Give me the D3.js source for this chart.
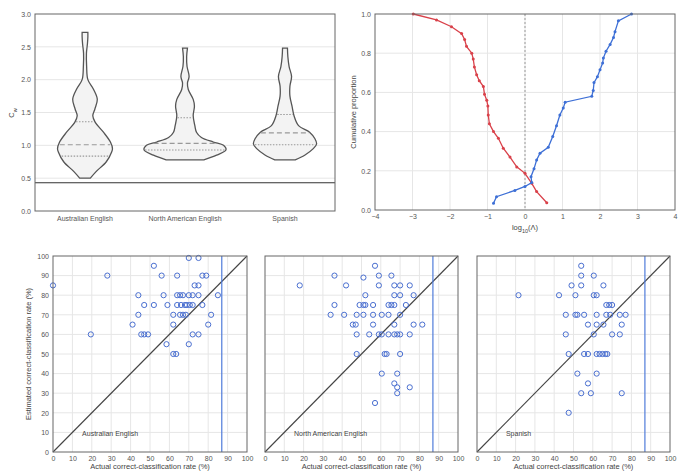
<!DOCTYPE html>
<html>
<head>
<meta charset="utf-8">
<title>Classification panels</title>
<script src="https://d3js.org/d3.v7.min.js"></script>
<style>
  body { margin: 0; background: #fff; }
  svg text { font-family: "Liberation Sans", Arial, sans-serif; fill: #444; }
</style>
</head>
<body>
<svg id="fig" width="679" height="475"></svg>
<script>
// ---- data ----
var languages = ["Australian English", "North American English", "Spanish"];

// violin outlines: [value, relative density]
var violinAus = [[0.5,0.13],[0.6,0.27],[0.75,0.52],[0.9,0.65],[0.95,0.67],[1.05,0.62],[1.2,0.45],[1.35,0.25],[1.45,0.19],[1.55,0.24],[1.7,0.30],[1.85,0.21],[2.0,0.07],[2.2,0.04],[2.4,0.035],[2.55,0.06],[2.65,0.07],[2.72,0.07]];
var violinNA = [[0.78,0.46],[0.85,0.77],[0.93,1.0],[1.0,0.94],[1.05,0.69],[1.12,0.40],[1.2,0.28],[1.3,0.24],[1.45,0.2],[1.6,0.23],[1.7,0.2],[1.85,0.08],[1.95,0.06],[2.05,0.1],[2.2,0.05],[2.35,0.04],[2.48,0.06]];
var violinSpa = [[0.78,0.25],[0.85,0.48],[0.95,0.69],[1.02,0.77],[1.1,0.73],[1.2,0.6],[1.3,0.33],[1.45,0.22],[1.6,0.17],[1.75,0.12],[1.9,0.12],[2.05,0.16],[2.2,0.1],[2.35,0.07],[2.48,0.06]];
// quartiles [q1, median, q3]
var quartAus = [0.835, 1.01, 1.36];
var quartNA = [0.93, 1.03, 1.42];
var quartSpa = [1.01, 1.19, 1.47];
var threshold = 0.43;

// cumulative proportion curves [log10(L), proportion]
var cdfRed = [[0.58,0.037],[0.31,0.094],[0.18,0.136],[0.0,0.187],[-0.22,0.22],[-0.4,0.27],[-0.58,0.315],[-0.71,0.366],[-0.84,0.40],[-0.95,0.44],[-0.98,0.485],[-0.99,0.53],[-1.02,0.56],[-1.08,0.59],[-1.11,0.63],[-1.22,0.66],[-1.29,0.69],[-1.35,0.73],[-1.38,0.77],[-1.42,0.80],[-1.56,0.835],[-1.61,0.87],[-1.69,0.90],[-1.96,0.935],[-2.36,0.97],[-2.98,1.0]];
var cdfBlue = [[-0.84,0.034],[-0.76,0.068],[-0.27,0.10],[0.0,0.12],[0.18,0.14],[0.16,0.17],[0.24,0.21],[0.31,0.255],[0.4,0.29],[0.62,0.32],[0.74,0.375],[0.84,0.43],[0.93,0.485],[1.02,0.52],[1.07,0.55],[1.78,0.58],[1.82,0.61],[1.84,0.65],[1.93,0.68],[2.0,0.715],[2.07,0.75],[2.09,0.775],[2.16,0.81],[2.27,0.845],[2.36,0.88],[2.4,0.91],[2.49,0.965],[2.84,1.0]];

// scatter: [actual, estimated]
var ratesAus = [[0,85],[52,95],[28,90],[56,90],[64,90],[70,99],[75,99],[77,90],[79,90],[73,85],[75,85],[44,80],[57,80],[64,80],[65.5,80],[67,80],[70,80],[72,80],[75,80],[85,80],[47,75],[52,75],[59,75],[64,75],[66,75],[68,75],[69,75],[70.5,75],[72,75],[77,75],[44,70],[62,70],[65.5,70],[67,70],[68.5,70],[81.5,70],[41,65],[62,65],[80,65],[19.5,60],[45.5,60],[47,60],[49,60],[72,60],[75,60],[58.5,55],[70,55],[62,50],[63.5,50]];
var ratesNA = [[57,95],[36,90],[51,89],[59,90],[65.5,90],[18,85],[42,85],[59,85],[67,85],[70,85],[75,85],[52,80],[67,80],[70,80],[77,80],[36,75],[49,75],[51,75],[52,75],[56,75],[64,75],[65.5,75],[67,75],[73,75],[34,70],[41,70],[47.5,70],[51,70],[56,70],[60.5,70],[64,70],[70,70],[45.5,65],[47,65],[56,65],[67,65],[77,65],[81.5,65],[47.5,60],[54,60],[59,60],[60.5,60],[64,60],[67,60],[68.5,60],[70,60],[75,60],[47.5,50],[62,50],[63,50],[70,50],[60.5,40],[68.5,40],[67,35],[68.5,33],[68.5,30],[75,33],[57,25]];
var ratesSpa = [[54,95],[54,90],[60.5,90],[49,85],[54,85],[65.5,85],[21.5,80],[42.5,80],[51,80],[60.5,80],[62,80],[67,75],[68.5,75],[70,75],[46,70],[51,70],[52,70],[55.5,70],[62,70],[67,70],[69,70],[74,70],[77,70],[57.5,65],[62,65],[65.5,65],[75,65],[46,60],[60.5,60],[70,60],[74,60],[47.5,50],[55.5,50],[57.5,50],[62,50],[63.5,50],[65,50],[66.5,50],[67.5,50],[52,40],[62,40],[57.5,35],[54,30],[59,30],[75,30],[47.5,20]];
var chanceLine = 87;

var rateTicks = [0,10,20,30,40,50,60,70,80,90,100];
var cdfXTicks = [-4,-3,-2,-1,0,1,2,3,4];
var cdfYTicks = [0,0.2,0.4,0.6,0.8,1.0];
var cwTicks = [0,0.5,1.0,1.5,2.0,2.5,3.0];

// ---- drawing ----
var svg = d3.select("#fig");
var gridCol = "#e6e6e6", frameCol = "#666", tickFs = 7;

function frame(x0, x1, y0, y1) {
  svg.append("rect").attr("x", x0).attr("y", y0)
    .attr("width", x1 - x0).attr("height", y1 - y0)
    .attr("fill", "none").attr("stroke", frameCol).attr("stroke-width", 1);
}

// top-left: violins
(function() {
  var x = d3.scaleBand().domain(languages).range([35, 335]);
  var y = d3.scaleLinear().domain([0, 3]).range([211, 14]);
  var w = d3.scaleLinear().domain([0, 1]).range([0, 41]);
  var g = svg.append("g");
  g.selectAll("line.grid").data(cwTicks.slice(1, -1)).enter().append("line")
    .attr("x1", 35).attr("x2", 335).attr("y1", y).attr("y2", y)
    .attr("stroke", gridCol);
  var ax = d3.axisLeft(y).tickValues(cwTicks).tickFormat(d3.format(".1f")).tickSize(0).tickPadding(4);
  g.append("g").attr("transform", "translate(35,0)").call(ax)
    .call(s => s.select(".domain").remove())
    .selectAll("text").attr("font-size", tickFs).style("fill", "#555");
  var bx = d3.axisBottom(x).tickSize(0).tickPadding(5);
  g.append("g").attr("transform", "translate(0,211)").call(bx)
    .call(s => s.select(".domain").remove())
    .selectAll("text").attr("font-size", tickFs).style("fill", "#555");

  var profiles = [violinAus, violinNA, violinSpa];
  var quarts = [quartAus, quartNA, quartSpa];
  languages.forEach(function(lang, i) {
    var cx = x(lang) + x.bandwidth() / 2;
    var area = d3.area()
      .y(d => y(d[0]))
      .x0(d => cx - w(d[1]))
      .x1(d => cx + w(d[1]))
      .curve(d3.curveCatmullRom.alpha(0.5));
    g.append("path").datum(profiles[i]).attr("d", area)
      .attr("fill", "#f3f3f3").attr("stroke", "#555").attr("stroke-width", 1.3);
    var vals = profiles[i].map(d => d[0]), dens = profiles[i].map(d => d[1]);
    var interp = d3.scaleLinear().domain(vals).range(dens);
    quarts[i].forEach(function(q, k) {
      var hw = w(interp(q)) - 1;
      g.append("line").attr("x1", cx - hw).attr("x2", cx + hw)
        .attr("y1", y(q)).attr("y2", y(q))
        .attr("stroke", "#999").attr("stroke-width", 1.1)
        .attr("stroke-dasharray", k === 1 ? "5,3" : "1.5,1.5");
    });
  });
  g.append("line").attr("x1", 35).attr("x2", 335)
    .attr("y1", y(threshold)).attr("y2", y(threshold))
    .attr("stroke", "#333").attr("stroke-width", 1);
  frame(35, 335, 14, 211);
  svg.append("text").attr("transform", "translate(14,113) rotate(-90)")
    .attr("text-anchor", "middle").attr("font-size", 7.5)
    .html('C<tspan baseline-shift="sub" font-size="5.5">w</tspan>');
})();

// top-right: cumulative proportions
(function() {
  var x = d3.scaleLinear().domain([-4, 4]).range([375, 675]);
  var y = d3.scaleLinear().domain([0, 1]).range([210, 14]);
  var g = svg.append("g");
  g.selectAll("line.vg").data(cdfXTicks.slice(1, -1)).enter().append("line")
    .attr("x1", x).attr("x2", x).attr("y1", 14).attr("y2", 210).attr("stroke", gridCol);
  g.selectAll("line.hg").data(cdfYTicks.slice(1, -1)).enter().append("line")
    .attr("x1", 375).attr("x2", 675).attr("y1", y).attr("y2", y).attr("stroke", gridCol);
  g.append("line").attr("x1", x(0)).attr("x2", x(0)).attr("y1", 14).attr("y2", 210)
    .attr("stroke", "#999").attr("stroke-dasharray", "2,2");
  g.append("g").attr("transform", "translate(375,0)")
    .call(d3.axisLeft(y).tickValues(cdfYTicks).tickFormat(d3.format(".1f")).tickSize(0).tickPadding(4))
    .call(s => s.select(".domain").remove())
    .selectAll("text").attr("font-size", tickFs).style("fill", "#555");
  g.append("g").attr("transform", "translate(0,210)")
    .call(d3.axisBottom(x).tickValues(cdfXTicks).tickFormat(d3.format("d")).tickSize(0).tickPadding(4))
    .call(s => s.select(".domain").remove())
    .selectAll("text").attr("font-size", tickFs).style("fill", "#555");
  var line = d3.line().x(d => x(d[0])).y(d => y(d[1]));
  [[cdfRed, "#d9414a"], [cdfBlue, "#3d6fd6"]].forEach(function(s) {
    g.append("path").datum(s[0]).attr("d", line)
      .attr("fill", "none").attr("stroke", s[1]).attr("stroke-width", 1.3);
    g.selectAll(null).data(s[0]).enter().append("circle")
      .attr("cx", d => x(d[0])).attr("cy", d => y(d[1])).attr("r", 1.5)
      .attr("fill", s[1]);
  });
  frame(375, 675, 14, 210);
  svg.append("text").attr("transform", "translate(356,112) rotate(-90)")
    .attr("text-anchor", "middle").attr("font-size", 7.5).text("Cumulative proportion");
  svg.append("text").attr("x", 525).attr("y", 230)
    .attr("text-anchor", "middle").attr("font-size", 7.5)
    .html('log<tspan baseline-shift="sub" font-size="5.5">10</tspan>(Λ)');
})();

// bottom: scatter panels
var panels = [
  {name: languages[0], pts: ratesAus, x0: 53, x1: 247},
  {name: languages[1], pts: ratesNA, x0: 265, x1: 458},
  {name: languages[2], pts: ratesSpa, x0: 477, x1: 670}
];
var yR = d3.scaleLinear().domain([0, 100]).range([452, 256]);
panels.forEach(function(p, i) {
  var x = d3.scaleLinear().domain([0, 100]).range([p.x0, p.x1]);
  var g = svg.append("g");
  g.selectAll("line.vg").data(rateTicks.slice(1, -1)).enter().append("line")
    .attr("x1", x).attr("x2", x).attr("y1", 256).attr("y2", 452).attr("stroke", gridCol);
  g.selectAll("line.hg").data(rateTicks.slice(1, -1)).enter().append("line")
    .attr("x1", p.x0).attr("x2", p.x1).attr("y1", yR).attr("y2", yR).attr("stroke", gridCol);
  if (i === 0) {
    g.append("g").attr("transform", "translate(" + p.x0 + ",0)")
      .call(d3.axisLeft(yR).tickValues(rateTicks).tickSize(0).tickPadding(4))
      .call(s => s.select(".domain").remove())
      .selectAll("text").attr("font-size", tickFs).style("fill", "#555");
  }
  g.append("g").attr("transform", "translate(0,452)")
    .call(d3.axisBottom(x).tickValues(rateTicks).tickSize(0).tickPadding(4))
    .call(s => s.select(".domain").remove())
    .selectAll("text").attr("font-size", tickFs).style("fill", "#555");
  g.append("line").attr("x1", x(0)).attr("y1", yR(0)).attr("x2", x(100)).attr("y2", yR(100))
    .attr("stroke", "#444").attr("stroke-width", 1.1);
  g.append("line").attr("x1", x(chanceLine)).attr("x2", x(chanceLine)).attr("y1", 256).attr("y2", 452)
    .attr("stroke", "#4f7bd9").attr("stroke-width", 1.2);
  g.selectAll("circle").data(p.pts).enter().append("circle")
    .attr("cx", d => x(d[0])).attr("cy", d => yR(d[1])).attr("r", 2.6)
    .attr("fill", "none").attr("stroke", "#4a6fd0").attr("stroke-width", 1);
  g.append("text").attr("x", x(15)).attr("y", yR(8)).attr("font-size", 7).text(p.name);
  frame(p.x0, p.x1, 256, 452);
  svg.append("text").attr("x", (p.x0 + p.x1) / 2).attr("y", 469)
    .attr("text-anchor", "middle").attr("font-size", 7.5).text("Actual correct-classification rate (%)");
});
svg.append("text").attr("transform", "translate(31,354) rotate(-90)")
  .attr("text-anchor", "middle").attr("font-size", 7.5).text("Estimated correct-classification rate (%)");
</script>
</body>
</html>
